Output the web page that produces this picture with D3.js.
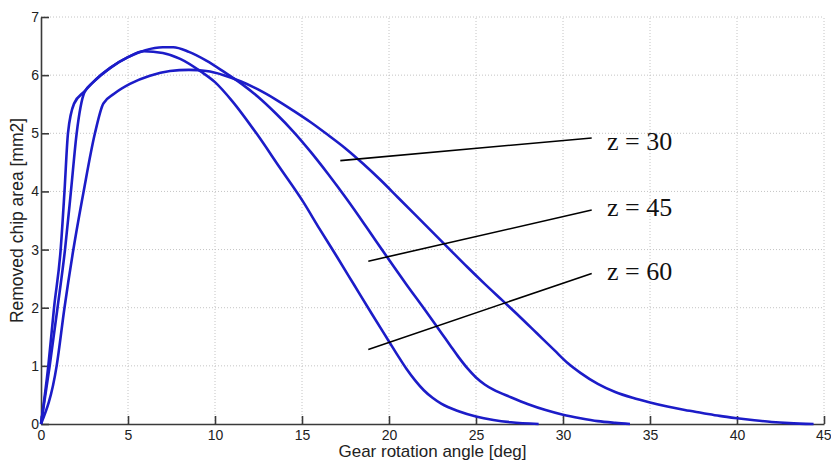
<!DOCTYPE html>
<html>
<head>
<meta charset="utf-8">
<script src="https://cdn.jsdelivr.net/npm/d3@7"></script>
<style>
  body { margin: 0; background: #fff; }
  svg { display: block; }
  .tick text { font-family: "Liberation Sans", Arial, sans-serif; font-size: 14px; fill: #222; }
</style>
</head>
<body>
<svg id="chart" width="831" height="461"></svg>
<script>
// gear rotation angle [deg] / removed chip area [mm2]
const z60 = [[0,0],[0.42,1],[0.75,2],[1.13,3],[1.35,4],[1.55,5],[1.9,5.51],[2.5,5.72],[3,5.88],[4,6.13],[5,6.31],[5.9,6.41],[7,6.38],[8,6.28],[9.2,6.06],[10,5.88],[11,5.55],[12.4,4.99],[13.7,4.42],[15.07,3.82],[16,3.36],[17,2.88],[18,2.39],[19,1.9],[20,1.42],[20.5,1.18],[21,0.95],[21.5,0.75],[22,0.58],[22.5,0.45],[23,0.35],[24,0.22],[25,0.13],[26,0.07],[27,0.03],[28.6,0]];
const z45 = [[0,0],[0.5,1],[0.95,2],[1.38,3],[1.72,4],[2.05,5],[2.49,5.7],[3,5.88],[4,6.13],[5,6.31],[6,6.43],[7,6.48],[7.6,6.48],[8.5,6.4],[9.5,6.25],[10.5,6.06],[11.53,5.85],[12.5,5.62],[13.5,5.34],[14.5,5.03],[15.5,4.68],[16.5,4.3],[17.57,3.87],[18.72,3.38],[19.87,2.88],[21,2.4],[22,1.99],[23,1.57],[23.5,1.36],[24,1.15],[24.5,0.96],[25,0.8],[25.5,0.68],[26,0.59],[27,0.46],[28,0.34],[29,0.24],[30,0.16],[31,0.1],[32,0.05],[33,0.02],[33.85,0]];
const z30 = [[0,0],[0.9,1],[1.35,2],[1.86,3],[2.45,4],[3.1,5],[3.58,5.51],[4.2,5.68],[5.11,5.85],[6.26,5.99],[7.41,6.07],[8.5,6.09],[9.5,6.07],[10.5,6.0],[11.5,5.89],[12.5,5.75],[13.5,5.58],[14.5,5.39],[15.5,5.19],[16.5,4.97],[17.5,4.74],[18.5,4.48],[19.5,4.2],[20.5,3.9],[21.5,3.6],[22.5,3.3],[23.5,3.0],[24.5,2.7],[25.5,2.41],[26.5,2.13],[27.5,1.85],[28.5,1.56],[29.5,1.27],[30.3,1.04],[31,0.88],[32,0.69],[33,0.55],[34,0.45],[35,0.37],[36,0.3],[37,0.24],[38,0.19],[39,0.14],[40,0.1],[41,0.065],[42,0.035],[43,0.015],[44.4,0]];

const xTicks = [0,5,10,15,20,25,30,35,40,45];
const yTicks = [0,1,2,3,4,5,6,7];

// leader lines: label, start point, end point, label anchor (data units)
const labels = ['z = 30', 'z = 45', 'z = 60'];
const leaderFrom = [[17.2,4.53],[18.81,2.8],[18.81,1.28]];
const leaderTo = [[31.65,4.92],[31.65,3.68],[31.65,2.59]];
const labelAt = [[32.53,4.72],[32.53,3.57],[32.53,2.47]];

const svg = d3.select('#chart');
const x = d3.scaleLinear().domain([0,45]).range([41,824]);
const y = d3.scaleLinear().domain([0,7]).range([424,17]);

// grid
const grid = svg.append('g')
    .attr('stroke', '#c4c4c4')
    .attr('stroke-width', 1)
    .attr('stroke-dasharray', '1,2');
grid.selectAll('.vg').data(xTicks.slice(1)).join('line')
    .attr('x1', d => x(d)).attr('x2', d => x(d))
    .attr('y1', y(0)).attr('y2', y(7));
grid.selectAll('.hg').data(yTicks.slice(1)).join('line')
    .attr('x1', x(0)).attr('x2', x(45))
    .attr('y1', d => y(d)).attr('y2', d => y(d));

// axes, MATLAB style inward ticks
const xAxis = svg.append('g')
    .attr('transform', `translate(0,${y(0)})`)
    .call(d3.axisBottom(x).tickValues(xTicks).tickFormat(d3.format('d'))
        .tickSizeInner(-8).tickSizeOuter(0).tickPadding(6));
const yAxis = svg.append('g')
    .attr('transform', `translate(${x(0)},0)`)
    .call(d3.axisLeft(y).tickValues(yTicks).tickFormat(d3.format('d'))
        .tickSizeInner(-8).tickSizeOuter(0).tickPadding(2));
[xAxis, yAxis].forEach(a => {
    a.select('.domain').attr('stroke', '#3a3a3a').attr('stroke-width', 1.6);
    a.selectAll('.tick line').attr('stroke', '#3a3a3a').attr('stroke-width', 1.6);
});
// last x label sits against the right edge
xAxis.selectAll('.tick text').filter(d => d === 45)
    .attr('text-anchor', 'end').attr('x', 7);

// curves
const line = d3.line()
    .x(d => x(d[0]))
    .y(d => y(d[1]))
    .curve(d3.curveMonotoneX);
svg.append('g').selectAll('path').data([z60, z45, z30]).join('path')
    .attr('d', line)
    .attr('fill', 'none')
    .attr('stroke', '#1c1cc8')
    .attr('stroke-width', 2.6)
    .attr('stroke-linejoin', 'round');

// annotations
const ann = svg.append('g');
labels.forEach((t, i) => {
    ann.append('line')
        .attr('x1', x(leaderFrom[i][0])).attr('y1', y(leaderFrom[i][1]))
        .attr('x2', x(leaderTo[i][0])).attr('y2', y(leaderTo[i][1]))
        .attr('stroke', '#000').attr('stroke-width', 1.6);
    ann.append('text')
        .attr('x', x(labelAt[i][0])).attr('y', y(labelAt[i][1]))
        .attr('font-family', '"Liberation Serif", "Times New Roman", serif')
        .attr('font-size', 26)
        .attr('fill', '#111')
        .text(t);
});

// axis titles
svg.append('text')
    .attr('x', (x(0) + x(45)) / 2).attr('y', 457)
    .attr('text-anchor', 'middle')
    .attr('font-family', '"Liberation Sans", Arial, sans-serif')
    .attr('font-size', 17)
    .attr('fill', '#222')
    .text('Gear rotation angle [deg]');
svg.append('text')
    .attr('transform', `translate(23,${(y(0) + y(7)) / 2}) rotate(-90)`)
    .attr('text-anchor', 'middle')
    .attr('font-family', '"Liberation Sans", Arial, sans-serif')
    .attr('font-size', 17.5)
    .attr('fill', '#222')
    .text('Removed chip area [mm2]');
</script>
</body>
</html>
